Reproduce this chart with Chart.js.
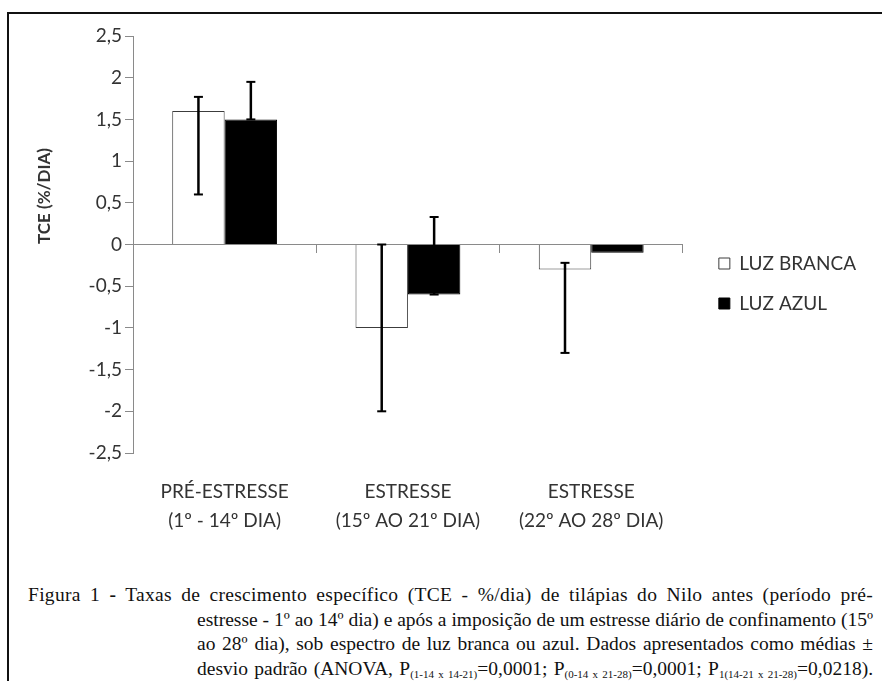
<!DOCTYPE html>
<html lang="pt">
<head>
<meta charset="utf-8">
<script src="https://cdn.jsdelivr.net/npm/chart.js@4"></script>
<style>
  html, body { margin: 0; padding: 0; background: #fff; overflow: hidden; }
  #moldura { position: absolute; left: 7px; top: 12px; width: 1000px; height: 1000px; border: 2px solid #111; }
  #grafico { position: absolute; left: 0; top: 0; width: 882px; height: 560px; }
  #legenda {
    position: absolute; left: 28px; top: 583px; width: 845px;
    font-family: "Liberation Serif", "Times New Roman", serif; font-size: 19.5px;
    line-height: 24.5px; color: #111;
  }
  #legenda div { text-align: justify; text-align-last: justify; white-space: nowrap; }
  #legenda .prim { letter-spacing: 0.3px; }
  #legenda .rec { padding-left: 169px; }
  #legenda sub { font-size: 11px; vertical-align: -3px; line-height: 0; letter-spacing: 0; }
</style>
</head>
<body>
<div id="moldura"></div>
<div id="grafico"><canvas id="c"></canvas></div>
<div id="legenda">
  <div class="prim">Figura 1 <b>-</b> Taxas de crescimento específico (TCE - %/dia) de tilápias do Nilo antes (período pré-</div>
  <div class="rec">estresse - 1º ao 14º dia) e após a imposição de um estresse diário de confinamento (15º</div>
  <div class="rec">ao 28º dia), sob espectro de luz branca ou azul. Dados apresentados como médias ±</div>
  <div class="rec">desvio padrão (ANOVA, P<sub>(1-14 x 14-21)</sub>=0,0001; P<sub>(0-14 x 21-28)</sub>=0,0001; P<sub>1(14-21 x 21-28)</sub>=0,0218).</div>
</div>
<script>
// dados
const categorias = [
  ["PRÉ-ESTRESSE", "(1º - 14º DIA)"],
  ["ESTRESSE", "(15º AO 21º DIA)"],
  ["ESTRESSE", "(22º AO 28º DIA)"]
];
const luzBranca = [1.6, -1.0, -0.3];
const luzAzul = [1.5, -0.6, -0.1];
// extremos das barras de erro (null = sem barra)
const erroBrancaMin = [0.6, -2.0, -1.3];
const erroBrancaMax = [1.77, 0, -0.22];
const erroAzulMin = [1.5, -0.6, null];
const erroAzulMax = [1.95, 0.33, null];
const tituloY = "TCE (%/DIA)";

const fonte = "Lato, 'Open Sans', sans-serif";
const corTexto = "#333";
const corEixo = "#8a8a8a";

const barrasErro = {
  id: "barrasErro",
  afterDatasetsDraw(chart) {
    const ctx = chart.ctx;
    const y = chart.scales.y;
    const erros = [[erroBrancaMin, erroBrancaMax], [erroAzulMin, erroAzulMax]];
    ctx.save();
    ctx.strokeStyle = "#000";
    erros.forEach(([mins, maxs], i) => {
      chart.getDatasetMeta(i).data.forEach((bar, j) => {
        if (mins[j] == null) return;
        const y1 = y.getPixelForValue(mins[j]);
        const y2 = y.getPixelForValue(maxs[j]);
        ctx.lineWidth = 2.5;
        ctx.beginPath();
        ctx.moveTo(bar.x, y1);
        ctx.lineTo(bar.x, y2);
        ctx.stroke();
        ctx.lineWidth = 2;
        [y1, y2].forEach(yy => {
          ctx.beginPath();
          ctx.moveTo(bar.x - 4.5, yy);
          ctx.lineTo(bar.x + 4.5, yy);
          ctx.stroke();
        });
      });
    });
    ctx.restore();
  }
};

const tituloEixo = {
  id: "tituloEixo",
  afterDraw(chart) {
    const ctx = chart.ctx;
    ctx.save();
    ctx.translate(45, 196);
    ctx.rotate(-Math.PI / 2);
    ctx.font = "bold 17px " + fonte;
    ctx.fillStyle = corTexto;
    ctx.textAlign = "center";
    ctx.textBaseline = "middle";
    ctx.fillText(tituloY, 0, 0);
    ctx.restore();
  }
};

// afasta a legenda um pouco do fim do eixo x e sobe-a
const afastaLegenda = {
  id: "afastaLegenda",
  afterLayout(chart) {
    chart.legend.left += 15;
    chart.legend.right += 15;
    chart.legend.top -= 7;
    chart.legend.bottom -= 7;
  }
};

new Chart(document.getElementById("c"), {
  type: "bar",
  data: {
    labels: categorias,
    datasets: [
      {
        label: "LUZ BRANCA",
        data: luzBranca,
        backgroundColor: "#fff",
        borderColor: "#3c3c3c",
        borderWidth: 1,
        categoryPercentage: 0.572,
        barPercentage: 1
      },
      {
        label: "LUZ AZUL",
        data: luzAzul,
        backgroundColor: "#000",
        borderColor: "#000",
        borderWidth: 1,
        categoryPercentage: 0.572,
        barPercentage: 1
      }
    ]
  },
  options: {
    responsive: true,
    maintainAspectRatio: false,
    animation: false,
    layout: { padding: { top: 36, bottom: 15, left: 0, right: 31 } },
    plugins: {
      tooltip: { enabled: false },
      legend: {
        position: "right",
        labels: {
          font: { family: fonte, size: 19 },
          color: corTexto,
          boxWidth: 11,
          boxHeight: 11,
          padding: 21
        }
      }
    },
    scales: {
      x: {
        grid: { display: false },
        border: { display: false },
        ticks: {
          color: corTexto,
          padding: 16,
          maxRotation: 0,
          font: { family: fonte, size: 19, lineHeight: 1.55 }
        },
        afterFit(s) { s.height = 92; }
      },
      x2: {
        axis: "x",
        type: "category",
        position: { y: 0 },
        offset: true,
        grid: { offset: true, drawOnChartArea: false, color: corEixo, tickLength: 8 },
        border: { color: corEixo },
        ticks: { display: false },
        afterFit(s) { s.height = 0; }
      },
      y: {
        min: -2.5,
        max: 2.5,
        grid: {
          color: c => (c.tick && c.tick.value === 0 ? corEixo : "rgba(0,0,0,0)"),
          tickColor: corEixo,
          tickLength: 8
        },
        border: { color: corEixo },
        ticks: {
          stepSize: 0.5,
          color: corTexto,
          padding: 3,
          font: { family: fonte, size: 19 },
          callback: v => String(v).replace(".", ",")
        },
        afterFit(s) { s.width = 133; }
      }
    }
  },
  plugins: [barrasErro, tituloEixo, afastaLegenda]
});
</script>
</body>
</html>
